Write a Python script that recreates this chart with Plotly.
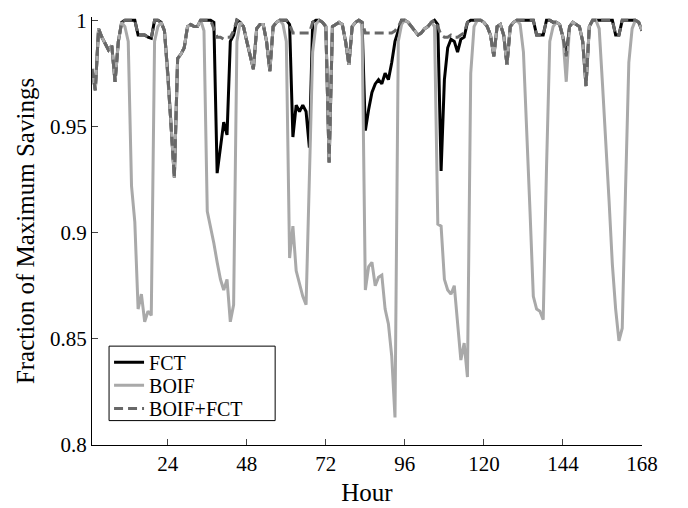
import plotly.graph_objects as go

hours = list(range(1, 169))

# one row per day (24 hourly values)
fct = [
    0.977, 0.967, 0.996, 0.992, 0.989, 0.986, 0.988, 0.971, 0.990, 0.999, 1.0, 1.0,
    1.0, 1.0, 0.993, 0.993, 0.993, 0.992, 0.9915, 1.0, 1.0, 0.999, 0.995, 0.975,
    0.951, 0.926, 0.982, 0.984, 0.987, 0.997, 0.998, 0.997, 0.997, 1.0, 1.0, 1.0,
    1.0, 0.999, 0.928, 0.940, 0.952, 0.946, 0.990, 0.993, 1.0, 0.999, 0.997, 0.990,
    0.983, 0.977, 0.996, 0.998, 0.998, 0.990, 0.976, 0.997, 0.999, 1.0, 1.0, 1.0,
    0.998, 0.945, 0.960, 0.957, 0.960, 0.957, 0.940, 0.999, 1.0, 1.0, 0.999, 0.997,
    0.933, 0.997, 0.998, 0.999, 0.998, 0.990, 0.979, 0.997, 0.999, 1.0, 0.999, 0.948,
    0.958, 0.966, 0.970, 0.972, 0.970, 0.975, 0.972, 0.980, 0.990, 0.995, 1.0, 1.0,
    0.999, 0.997, 0.995, 0.993, 0.994, 0.996, 0.997, 0.999, 1.0, 0.998, 0.929, 0.972,
    0.987, 0.991, 0.990, 0.985, 0.991, 0.992, 0.999, 1.0, 1.0, 1.0, 1.0, 0.999,
    0.997, 0.993, 0.983, 0.997, 0.998, 0.993, 0.979, 0.997, 0.999, 1.0, 1.0, 1.0,
    1.0, 1.0, 1.0, 0.993, 0.993, 0.993, 1.0, 1.0, 0.999, 0.999, 0.998, 0.992,
    0.983, 0.997, 0.999, 0.998, 0.997, 0.990, 0.969, 0.997, 1.0, 1.0, 1.0, 1.0,
    1.0, 1.0, 1.0, 0.993, 0.993, 1.0, 1.0, 1.0, 1.0, 1.0, 0.999, 0.995,
]

boif = [
    0.977, 0.967, 0.996, 0.992, 0.989, 0.986, 0.988, 0.971, 0.990, 0.999, 0.997, 0.990,
    0.922, 0.905, 0.864, 0.871, 0.858, 0.863, 0.861, 0.990, 0.997, 0.999, 0.995, 0.975,
    0.951, 0.926, 0.982, 0.984, 0.987, 0.997, 0.998, 0.997, 0.997, 1.0, 0.995, 0.910,
    0.903, 0.895, 0.886, 0.878, 0.873, 0.878, 0.858, 0.866, 0.990, 0.999, 0.997, 0.990,
    0.983, 0.977, 0.996, 0.998, 0.998, 0.990, 0.976, 0.997, 0.999, 1.0, 0.998, 0.990,
    0.888, 0.903, 0.882, 0.876, 0.870, 0.866, 0.920, 0.985, 0.998, 1.0, 0.999, 0.997,
    0.933, 0.997, 0.998, 0.999, 0.998, 0.990, 0.979, 0.997, 0.999, 1.0, 0.998, 0.873,
    0.884, 0.886, 0.875, 0.879, 0.880, 0.864, 0.857, 0.842, 0.813, 0.990, 0.998, 1.0,
    0.999, 0.997, 0.995, 0.993, 0.994, 0.996, 0.997, 0.999, 0.997, 0.904, 0.903, 0.878,
    0.873, 0.871, 0.875, 0.857, 0.840, 0.848, 0.832, 0.975, 0.997, 1.0, 1.0, 0.999,
    0.997, 0.993, 0.983, 0.997, 0.998, 0.993, 0.979, 0.997, 0.999, 1.0, 0.998, 0.985,
    0.950, 0.910, 0.870, 0.864, 0.863, 0.859, 0.930, 0.990, 0.997, 0.999, 0.998, 0.992,
    0.971, 0.997, 0.999, 0.998, 0.997, 0.990, 0.969, 0.997, 1.0, 1.0, 0.996, 0.970,
    0.945, 0.915, 0.885, 0.864, 0.849, 0.855, 0.920, 0.980, 0.996, 1.0, 0.999, 0.995,
]

boif_fct = [
    0.977, 0.967, 0.996, 0.992, 0.989, 0.986, 0.988, 0.971, 0.990, 0.999, 1.0, 1.0,
    1.0, 1.0, 0.993, 0.993, 0.993, 0.992, 0.9915, 1.0, 1.0, 0.999, 0.995, 0.975,
    0.951, 0.926, 0.982, 0.984, 0.987, 0.997, 0.998, 0.997, 0.997, 1.0, 1.0, 1.0,
    1.0, 0.996, 0.992, 0.992, 0.991, 0.992, 0.992, 0.995, 1.0, 0.999, 0.997, 0.990,
    0.983, 0.977, 0.996, 0.998, 0.998, 0.990, 0.976, 0.997, 0.999, 1.0, 1.0, 1.0,
    0.998, 0.994, 0.994, 0.994, 0.994, 0.994, 0.994, 0.999, 1.0, 1.0, 0.999, 0.997,
    0.933, 0.997, 0.998, 0.999, 0.998, 0.990, 0.979, 0.997, 0.999, 1.0, 0.999, 0.994,
    0.994, 0.994, 0.994, 0.994, 0.994, 0.994, 0.994, 0.994, 0.995, 0.997, 1.0, 1.0,
    0.999, 0.997, 0.995, 0.993, 0.994, 0.996, 0.997, 0.999, 1.0, 0.997, 0.993, 0.992,
    0.992, 0.993, 0.992, 0.992, 0.993, 0.994, 0.999, 1.0, 1.0, 1.0, 1.0, 0.999,
    0.997, 0.993, 0.983, 0.997, 0.998, 0.993, 0.979, 0.997, 0.999, 1.0, 1.0, 1.0,
    1.0, 1.0, 1.0, 0.993, 0.993, 0.993, 1.0, 1.0, 0.999, 0.999, 0.998, 0.992,
    0.983, 0.997, 0.999, 0.998, 0.997, 0.990, 0.969, 0.997, 1.0, 1.0, 1.0, 1.0,
    1.0, 1.0, 1.0, 0.993, 0.993, 1.0, 1.0, 1.0, 1.0, 1.0, 0.999, 0.995,
]

x_ticks = [24, 48, 72, 96, 120, 144, 168]
y_ticks = [0.8, 0.85, 0.9, 0.95, 1.0]
y_tick_labels = ['0.8', '0.85', '0.9', '0.95', '1']

fig = go.Figure()
fig.add_trace(go.Scatter(x=hours, y=fct, mode='lines', name='FCT', legend='legend',
                         showlegend=True, line=dict(color='black', width=3)))
fig.add_trace(go.Scatter(x=hours, y=boif, mode='lines', name='BOIF', legend='legend2',
                         showlegend=True, line=dict(color='#a9a9a9', width=3)))
fig.add_trace(go.Scatter(x=hours, y=boif_fct, mode='lines', name='BOIF+FCT', legend='legend3',
                         showlegend=True, line=dict(color='#686868', width=3, dash='9px,5px')))

# the page body has an 8px margin, so the figure is drawn 8px smaller than the window
legend_style = dict(xanchor='left', yanchor='top', borderwidth=0, visible=True,
                    bgcolor='rgba(0,0,0,0)', font=dict(size=20))
fig.update_layout(
    width=680, height=500,
    margin=dict(l=84, r=46, t=9, b=63),
    plot_bgcolor='white', paper_bgcolor='white',
    font=dict(family='Liberation Serif', size=21, color='black'),
    showlegend=True,
    legend=dict(x=0.031, y=0.239, **legend_style),
    legend2=dict(x=0.031, y=0.185, **legend_style),
    legend3=dict(x=0.031, y=0.131, **legend_style),
)
# legend frame
fig.add_shape(type='rect', xref='paper', yref='paper', x0=0.031, x1=0.333, y0=0.057, y1=0.231,
              line=dict(color='black', width=1), fillcolor='white', layer='below')

fig.update_xaxes(range=[1, 168], tickvals=x_ticks, ticks='inside', ticklen=6,
                 showline=True, linecolor='black', linewidth=1, showgrid=False,
                 zeroline=False, automargin=False, ticklabeloverflow='allow',
                 title=dict(text='Hour', standoff=8))
fig.update_yaxes(range=[0.8, 1.0015], tickvals=y_ticks, ticktext=y_tick_labels,
                 ticks='inside', ticklen=6, showline=True, linecolor='black',
                 linewidth=1, showgrid=False, zeroline=False, automargin=False,
                 ticklabeloverflow='allow',
                 title=dict(text='Fraction of Maximum Savings', standoff=8))

fig.write_html('out.html')
